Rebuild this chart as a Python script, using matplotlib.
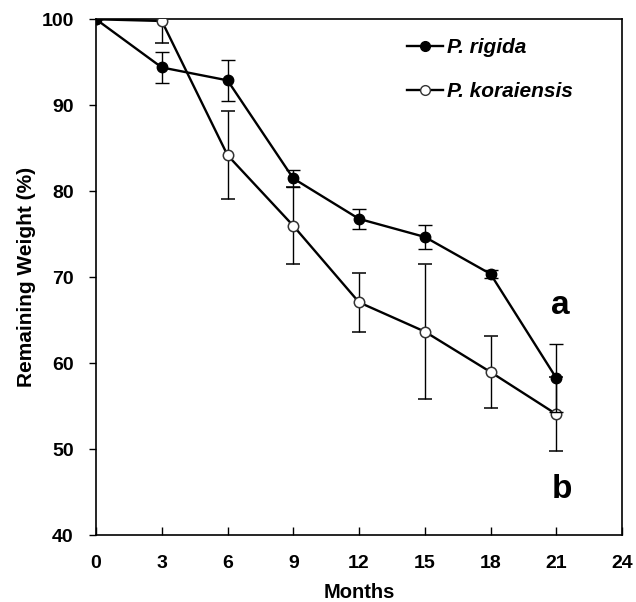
import matplotlib
matplotlib.use("Agg")
import matplotlib.pyplot as plt
from matplotlib.lines import Line2D

months = [0, 3, 6, 9, 12, 15, 18, 21]
rigida = [100, 94.4, 92.9, 81.5, 76.8, 74.7, 70.4, 58.3]
rigida_err = [0, 1.8, 2.4, 1.0, 1.2, 1.4, 0.5, 4.0]
koraiensis = [100, 99.8, 84.2, 76.0, 67.1, 63.7, 59.0, 54.1]
koraiensis_err = [0, 2.6, 5.1, 4.5, 3.4, 7.8, 4.2, 4.3]
xticks = [0, 3, 6, 9, 12, 15, 18, 21, 24]
yticks = [40, 50, 60, 70, 80, 90, 100]

plt.rcParams['font.family'] = ['Liberation Sans', 'DejaVu Sans']
fig = plt.figure(figsize=(6.36, 6.02), dpi=100)
ax = fig.add_axes([0.151, 0.1105, 0.827, 0.8575])

ax.errorbar(months, koraiensis, yerr=koraiensis_err, color='black', lw=1.7,
            marker='o', ms=7.5, mfc='white', mec='#333333', mew=1.1,
            ecolor='black', elinewidth=1, capsize=5, capthick=1, zorder=3)
ax.errorbar(months, rigida, yerr=rigida_err, color='black', lw=1.7,
            marker='o', ms=7.5, mfc='black', mec='black',
            ecolor='black', elinewidth=1, capsize=5, capthick=1, zorder=4)

ax.set_xlim(0, 24)
ax.set_ylim(40, 100)
ax.set_xticks(xticks)
ax.set_yticks(yticks)
ax.tick_params(axis='x', direction='in', length=6, width=1, pad=14, labelsize=14)
ax.tick_params(axis='y', direction='out', length=5, width=1, pad=11, labelsize=14)
for lab in ax.get_xticklabels() + ax.get_yticklabels():
    lab.set_fontweight('bold')
for s in ax.spines.values():
    s.set_linewidth(1.2)

ax.set_xlabel('Months', fontsize=14.5, fontweight='bold', labelpad=8)
ax.set_ylabel('Remaining Weight (%)', fontsize=15, fontweight='bold', labelpad=4)

handles = [Line2D([], [], color='black', lw=1.7, marker='o', ms=7, mfc='black', mec='black'),
           Line2D([], [], color='black', lw=1.7, marker='o', ms=7, mfc='white', mec='#333333')]
ax.legend(handles, ['P. rigida', 'P. koraiensis'], loc='upper left',
          bbox_to_anchor=(0.556, 1.0), frameon=False, handlelength=1.73,
          handletextpad=0.2, labelspacing=1.19,
          prop={'style': 'italic', 'weight': 'bold', 'size': 15})

ax.text(21.2, 66.7, 'a', fontsize=24, fontweight='bold', ha='center', va='center')
ax.text(21.25, 45.3, 'b', fontsize=24, fontweight='bold', ha='center', va='center')

fig.savefig('out.png', dpi=100)
